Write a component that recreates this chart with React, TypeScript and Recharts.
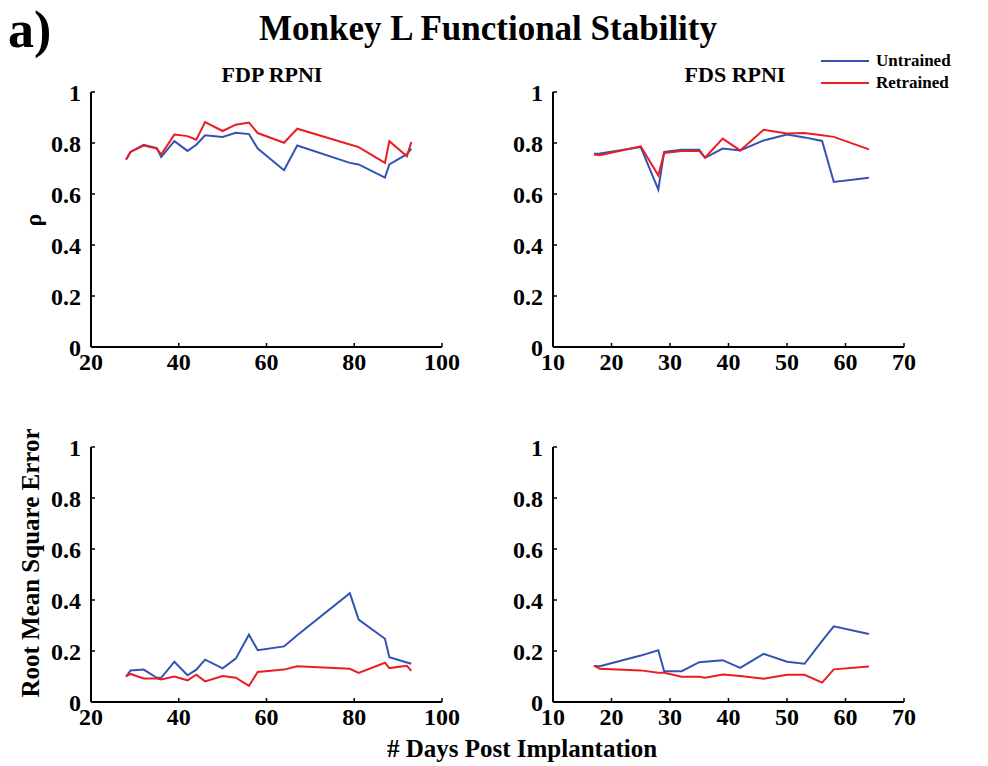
import { LineChart, Line, XAxis, YAxis } from "recharts";

// FDP RPNI sessions (days post implantation)
const FDP_DAYS = [28, 29, 32, 35, 36, 39, 42, 44, 46, 50, 53, 56, 58, 64, 67, 79, 81, 87, 88, 92, 93];
const FDP_RHO_UNTRAINED = [0.735, 0.765, 0.793, 0.78, 0.745, 0.807, 0.769, 0.793, 0.83, 0.824, 0.84, 0.835, 0.778, 0.693, 0.79, 0.722, 0.716, 0.664, 0.716, 0.756, 0.778];
const FDP_RHO_RETRAINED = [0.735, 0.765, 0.79, 0.778, 0.755, 0.833, 0.827, 0.813, 0.882, 0.847, 0.872, 0.88, 0.839, 0.801, 0.856, 0.794, 0.784, 0.722, 0.807, 0.748, 0.804];
const FDP_RMSE_UNTRAINED = [0.1, 0.124, 0.127, 0.095, 0.095, 0.158, 0.105, 0.127, 0.166, 0.132, 0.17, 0.264, 0.203, 0.218, 0.262, 0.427, 0.323, 0.248, 0.176, 0.155, 0.15];
const FDP_RMSE_RETRAINED = [0.1, 0.11, 0.092, 0.092, 0.088, 0.1, 0.085, 0.107, 0.081, 0.102, 0.095, 0.063, 0.118, 0.127, 0.14, 0.13, 0.114, 0.154, 0.133, 0.142, 0.122];

// FDS RPNI sessions
const FDS_DAYS = [17, 18, 25, 28, 29, 32, 35, 36, 39, 42, 46, 50, 53, 56, 58, 64];
const FDS_RHO_UNTRAINED = [0.758, 0.759, 0.784, 0.617, 0.765, 0.774, 0.774, 0.742, 0.778, 0.771, 0.81, 0.833, 0.822, 0.808, 0.647, 0.664];
const FDS_RHO_RETRAINED = [0.755, 0.752, 0.787, 0.673, 0.761, 0.769, 0.769, 0.742, 0.817, 0.771, 0.852, 0.837, 0.839, 0.83, 0.824, 0.775];
const FDS_RMSE_UNTRAINED = [0.141, 0.14, 0.182, 0.203, 0.121, 0.121, 0.156, 0.158, 0.164, 0.134, 0.189, 0.158, 0.15, 0.24, 0.297, 0.267];
const FDS_RMSE_RETRAINED = [0.143, 0.13, 0.124, 0.115, 0.115, 0.099, 0.099, 0.095, 0.108, 0.102, 0.091, 0.107, 0.107, 0.076, 0.128, 0.139];

const Y_TICKS = [0, 0.2, 0.4, 0.6, 0.8, 1];
const FDP_X_TICKS = [20, 40, 60, 80, 100];
const FDS_X_TICKS = [10, 20, 30, 40, 50, 60, 70];

const BLUE = "#3253b3";
const RED = "#ec1c24";
const FONT = "'Liberation Serif', 'Times New Roman', serif";

const rows = (days: number[], untrained: number[], retrained: number[]) =>
  days.map((day, i) => ({ day, untrained: untrained[i], retrained: retrained[i] }));

const PLOT_W = 351;
const PLOT_H = 255;
const ML = 70;
const MT = 14;
const MR = 40;
const XH = 44;

const tickStyle = { fontSize: 24, fontWeight: "bold", fontFamily: FONT, fill: "#000" };
const axisLine = { stroke: "#000", strokeWidth: 2 };
const tickLine = { stroke: "#000", strokeWidth: 1.5 };

function Panel({ left, top, data, domain, ticks }: { left: number; top: number; data: any[]; domain: [number, number]; ticks: number[] }) {
  return (
    <div style={{ position: "absolute", left: left - ML, top: top - MT }}>
      <LineChart width={ML + PLOT_W + MR} height={MT + PLOT_H + XH} data={data} margin={{ top: MT, right: MR, left: 0, bottom: 0 }}>
        <XAxis
          type="number"
          dataKey="day"
          domain={domain}
          ticks={ticks}
          allowDataOverflow
          height={XH}
          axisLine={axisLine}
          tickLine={tickLine}
          tickSize={-4}
          tickMargin={10}
          tick={tickStyle}
          interval={0}
        />
        <YAxis
          type="number"
          domain={[0, 1]}
          ticks={Y_TICKS}
          width={ML}
          axisLine={axisLine}
          tickLine={tickLine}
          tickSize={-4}
          tickMargin={14}
          tick={tickStyle}
          interval={0}
        />
        <Line type="linear" dataKey="untrained" stroke={BLUE} strokeWidth={2} dot={false} isAnimationActive={false} />
        <Line type="linear" dataKey="retrained" stroke={RED} strokeWidth={2} dot={false} isAnimationActive={false} />
      </LineChart>
    </div>
  );
}

const label = (style: React.CSSProperties): React.CSSProperties => ({
  position: "absolute",
  fontFamily: FONT,
  fontWeight: "bold",
  color: "#000",
  whiteSpace: "nowrap",
  lineHeight: 1,
  ...style,
});

export default function App() {
  return (
    <div style={{ position: "absolute", left: 0, top: 0, width: 988, height: 766, background: "#fff", overflow: "hidden" }}>
      <div style={label({ left: 8, top: 4, fontSize: 52 })}>a)</div>
      <div style={label({ left: 488, top: 11, fontSize: 35, transform: "translateX(-50%)" })}>Monkey L Functional Stability</div>
      <div style={label({ left: 272, top: 64, fontSize: 22, transform: "translateX(-50%)" })}>FDP RPNI</div>
      <div style={label({ left: 735, top: 64, fontSize: 22, transform: "translateX(-50%)" })}>FDS RPNI</div>

      {/* legend */}
      <div style={{ position: "absolute", left: 821, top: 60, width: 48, height: 2, background: BLUE }} />
      <div style={{ position: "absolute", left: 821, top: 82, width: 48, height: 2, background: RED }} />
      <div style={label({ left: 876, top: 52, fontSize: 17 })}>Untrained</div>
      <div style={label({ left: 876, top: 74, fontSize: 17 })}>Retrained</div>

      <div style={label({ left: 33, top: 220, fontSize: 24, transform: "translate(-50%, -50%) rotate(-90deg)" })}>ρ</div>
      <div style={label({ left: 30, top: 563, fontSize: 25, transform: "translate(-50%, -50%) rotate(-90deg)" })}>Root Mean Square Error</div>
      <div style={label({ left: 522, top: 748, fontSize: 25, transform: "translate(-50%, -50%)" })}># Days Post Implantation</div>

      <Panel left={91} top={92} data={rows(FDP_DAYS, FDP_RHO_UNTRAINED, FDP_RHO_RETRAINED)} domain={[20, 100]} ticks={FDP_X_TICKS} />
      <Panel left={553} top={92} data={rows(FDS_DAYS, FDS_RHO_UNTRAINED, FDS_RHO_RETRAINED)} domain={[10, 70]} ticks={FDS_X_TICKS} />
      <Panel left={91} top={447} data={rows(FDP_DAYS, FDP_RMSE_UNTRAINED, FDP_RMSE_RETRAINED)} domain={[20, 100]} ticks={FDP_X_TICKS} />
      <Panel left={553} top={447} data={rows(FDS_DAYS, FDS_RMSE_UNTRAINED, FDS_RMSE_RETRAINED)} domain={[10, 70]} ticks={FDS_X_TICKS} />
    </div>
  );
}
